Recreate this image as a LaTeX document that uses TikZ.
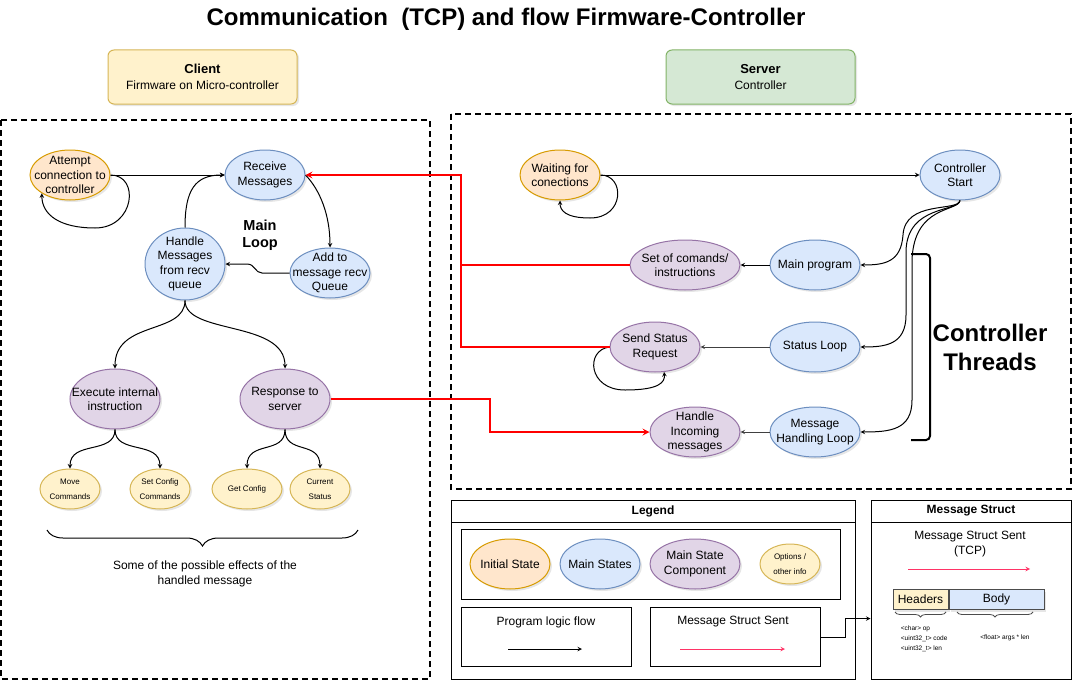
\documentclass[tikz,border=0pt]{standalone}
\usepackage{fontspec}
\setmainfont{Liberation Sans}
\usetikzlibrary{shapes.geometric, arrows, shadows, decorations.pathreplacing}
\definecolor{initfill}{HTML}{FFE6CC}
\definecolor{initdraw}{HTML}{D79B00}
\definecolor{mainfill}{HTML}{DAE8FC}
\definecolor{maindraw}{HTML}{6C8EBF}
\definecolor{compfill}{HTML}{E1D5E7}
\definecolor{compdraw}{HTML}{9673A6}
\definecolor{optfill}{HTML}{FFF2CC}
\definecolor{optdraw}{HTML}{D6B656}
\definecolor{srvfill}{HTML}{D5E8D4}
\definecolor{srvdraw}{HTML}{82B366}
\definecolor{sentred}{HTML}{FF3366}
\tikzstyle{initstate} = [ellipse, align=center, draw=initdraw, fill=initfill, inner xsep=-25pt, inner ysep=-20pt, minimum width=80pt, minimum height=50pt, drop shadow={opacity=0.2, shadow xshift=2pt, shadow yshift=-2pt}]
\tikzstyle{mainstate} = [ellipse, align=center, draw=maindraw, fill=mainfill, inner xsep=-25pt, inner ysep=-20pt, minimum width=80pt, minimum height=50pt, drop shadow={opacity=0.2, shadow xshift=2pt, shadow yshift=-2pt}]
\tikzstyle{component} = [ellipse, align=center, draw=compdraw, fill=compfill, inner xsep=-25pt, inner ysep=-20pt, minimum width=90pt, minimum height=60pt, drop shadow={opacity=0.2, shadow xshift=2pt, shadow yshift=-2pt}]
\tikzstyle{option} = [ellipse, align=center, draw=optdraw, fill=optfill, inner xsep=-25pt, inner ysep=-20pt, minimum width=60pt, minimum height=40pt, font=\fontsize{8}{15}\selectfont, drop shadow={opacity=0.2, shadow xshift=2pt, shadow yshift=-2pt}]
\tikzstyle{hdrbox} = [rectangle, rounded corners=6pt, align=center, minimum width=189pt, minimum height=54pt, font=\fontsize{12}{16}\selectfont, drop shadow={opacity=0.2, shadow xshift=2pt, shadow yshift=-2pt}]
\tikzstyle{boxhead} = [rectangle, draw=black, minimum height=22pt, font=\fontsize{12}{14}\selectfont\bfseries]
\tikzstyle{container} = [draw=black, line width=2pt, dash pattern=on 6pt off 4pt]
\tikzstyle{arrow} = [->, >=stealth]
\tikzstyle{redarrow} = [->, >=stealth, draw=red, line width=2pt]
\tikzstyle{sentarrow} = [->, >=stealth, draw=sentred]

\begin{document}
\begin{tikzpicture}[x=1pt, y=-1pt, line width=1pt, font=\fontsize{12}{14.4}\selectfont,
smallbrace/.style={draw=black!70, line width=0.8pt, decorate, decoration={brace, mirror, amplitude=5pt}},
fields/.style={font=\fontsize{6.5}{10}\selectfont, align=left}
]
\useasboundingbox (0,0) rectangle (1084,693);

\node (title) [font=\fontsize{24}{28}\selectfont\bfseries] at (506,19) {Communication\ \ (TCP) and flow Firmware-Controller};
\node (client) [hdrbox, fill=optfill, draw=optdraw] at (202.5,77) {{\fontsize{13}{16}\selectfont\bfseries Client}\\Firmware on Micro-controller};
\node (server) [hdrbox, fill=srvfill, draw=srvdraw] at (760.5,77) {{\fontsize{13}{16}\selectfont\bfseries Server}\\Controller};

\draw [container] (1,120) rectangle (430,679);
\draw [container] (451,114) rectangle (1071,489);

\node (attempt) [initstate] at (70,175) {Attempt\\connection to\\controller};
\node (recvmsg) [mainstate] at (265,175) {Receive\\Messages};
\node (addqueue) [mainstate] at (330,273) {Add to\\message recv\\Queue};
\node (handlemsg) [mainstate, minimum height=72pt] at (185,264) {Handle\\Messages\\from recv\\queue};
\node (mainloop) [font=\fontsize{14.5}{17}\selectfont\bfseries, align=center] at (260,235) {Main\\Loop};
\node (execute) [component] at (115,399) {Execute internal\\instruction};
\node (response) [component] at (285,399) {Response to\\server};
\node (movecmd) [option] at (70,489) {Move\\Commands};
\node (setcfg) [option] at (160,489) {Set Config\\Commands};
\node (getcfg) [option, minimum width=70pt] at (247,489) {Get Config};
\node (curstat) [option] at (320,489) {Current\\Status};
\draw [decorate, decoration={brace, mirror, amplitude=16pt}] (47,530) -- (358,530);
\node (effects) [align=center] at (205,574) {Some of the possible effects of the\\handled message};

\draw [arrow] (attempt) -- (recvmsg);
\draw [arrow] (attempt.east) .. controls (140,175) and (135,228) .. (95,228) .. controls (60,228) and (42,215) .. (attempt.213);
\draw [arrow] (recvmsg.east) .. controls (320,190) and (330,215) .. (addqueue.north);
\draw [arrow] (addqueue.west) -- (262,273) .. controls (255,273) and (255,264) .. (247,264) -- (handlemsg.east);
\draw [arrow] (handlemsg.north) .. controls (185,190) and (195,175) .. (recvmsg.west);
\draw [arrow] (handlemsg.south) .. controls (185,335) and (115,320) .. (execute.north);
\draw [arrow] (handlemsg.south) .. controls (185,335) and (285,320) .. (response.north);
\draw [arrow] (execute.south) .. controls (115,455) and (70,440) .. (movecmd.north);
\draw [arrow] (execute.south) .. controls (115,455) and (160,440) .. (setcfg.north);
\draw [arrow] (response.south) .. controls (285,455) and (247,440) .. (getcfg.north);
\draw [arrow] (response.south) .. controls (285,455) and (320,440) .. (curstat.north);

\node (waiting) [initstate] at (560,175) {Waiting for\\conections};
\node (ctrlstart) [mainstate] at (960,175) {Controller\\Start};
\node (mainprog) [mainstate, minimum width=90pt] at (815,265) {Main program};
\node (setcmds) [component, minimum width=110pt, minimum height=50pt] at (685,265) {Set of comands/\\instructions};
\node (statusloop) [mainstate, minimum width=90pt] at (815,347) {Status Loop};
\node (sendstatus) [component, minimum height=50pt] at (655,347) {Send Status\\Request};
\node (msgloop) [mainstate, minimum width=90pt] at (815,432) {Message\\Handling Loop};
\node (handleinc) [component, minimum height=50pt] at (695,432) {Handle\\Incoming\\messages};
\node (threads) [font=\fontsize{24}{29}\selectfont\bfseries, align=center] at (990,347) {Controller\\Threads};
\draw [line width=2pt, rounded corners=4pt] (911,254) -- (930,254) -- (930,440) -- (911,440);

\draw [arrow] (waiting) -- (ctrlstart);
\draw [arrow] (waiting.east) .. controls (625,175) and (625,218) .. (590,218) .. controls (565,218) and (560,210) .. (waiting.south);
\draw [arrow] (ctrlstart.south) .. controls (958,212) and (905,200) .. (903,235) .. controls (901,262) and (885,265) .. (mainprog.east);
\draw [arrow] (ctrlstart.south) .. controls (958,212) and (908,205) .. (906,250) -- (906,315) .. controls (906,345) and (885,347) .. (statusloop.east);
\draw [arrow] (ctrlstart.south) .. controls (958,212) and (914,205) .. (912,260) -- (912,400) .. controls (912,430) and (890,432) .. (msgloop.east);
\draw [arrow] (mainprog) -- (setcmds);
\draw [arrow, draw=darkgray] (statusloop) -- (sendstatus);
\draw [arrow, draw=darkgray] (msgloop) -- (handleinc);
\draw [arrow] (sendstatus.west) .. controls (585,350) and (588,390) .. (625,390) .. controls (660,390) and (665,382) .. (sendstatus.290);

\coordinate (redjoin) at (461,175);
\coordinate (redbend) at (490,399);
\draw [redarrow] (setcmds.west) -| (redjoin) -- (recvmsg.east);
\draw [draw=red, line width=2pt] (sendstatus.west) -| (redjoin);
\draw [redarrow] (response.east) -- (redbend) |- (handleinc.west);

\node (legendhead) [boxhead, minimum width=404pt] at (653,511) {Legend};
\node (legendbody) [draw, minimum width=404pt, minimum height=157pt] at (653,600.5) {};
\node (legshapes) [draw, minimum width=379pt, minimum height=70pt] at (650.5,564.5) {};
\node (leginit) [initstate] at (510,564) {Initial State};
\node (legmain) [mainstate] at (600,564) {Main States};
\node (legcomp) [component, minimum height=50pt] at (695,564) {Main State\\Component};
\node (legopt) [option] at (790,564) {Options /\\other info};
\node (legflow) [draw, minimum width=170pt, minimum height=59pt] at (546,637) {};
\node (flowtxt) at (546,622) {Program logic flow};
\coordinate (flowa) at (508,649);
\coordinate (flowb) at (582,649);
\draw [arrow] (flowa) -- (flowb);
\node (legmsg) [draw, minimum width=170pt, minimum height=59pt] at (735.5,637) {};
\node (msgtxt) at (733,622) {Message Struct Sent};
\coordinate (msga) at (680,649);
\coordinate (msgb) at (785,649);
\draw [sentarrow] (msga) -- (msgb);

\node (structhead) [boxhead, minimum width=200pt] at (971,511) {Message Struct};
\node (structbody) [draw, minimum width=200pt, minimum height=157pt] at (971,600.5) {};
\draw [arrow] (legmsg.east) -- ++(24,0) |- ([yshift=-18pt]structbody.west);
\node (sentcap) [align=center] at (970,544) {Message Struct Sent\\(TCP)};
\coordinate (senta) at (908,569);
\coordinate (sentb) at (1030,569);
\draw [sentarrow] (senta) -- (sentb);
\node (hdrs) [draw=black!70, fill=optfill, minimum width=55pt, minimum height=20pt, inner sep=0pt, drop shadow={opacity=0.2, shadow xshift=2pt, shadow yshift=-2pt}] at (920.5,599.5) {Headers};
\node (body) [draw=black!70, fill=mainfill, minimum width=95pt, minimum height=20pt, inner sep=0pt, anchor=west, drop shadow={opacity=0.2, shadow xshift=2pt, shadow yshift=-2pt}] at (hdrs.east) {Body};
\draw [smallbrace] (895,612) -- (946,612);
\draw [smallbrace] (957,612) -- (1033,612);
\node (hdrfields) [fields, anchor=west] at (897,639) {<char> op\\<uint32\_t> code\\<uint32\_t> len};
\node (bodyfields) [fields] at (1005,638) {<float> args * len};
\end{tikzpicture}
\end{document}
